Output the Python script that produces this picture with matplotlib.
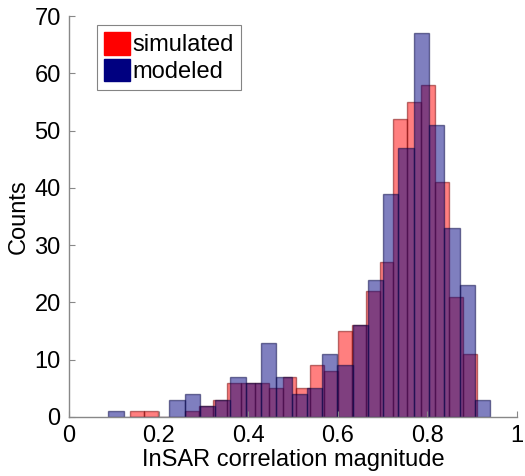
#! /usr/bin/python3
# -*- coding: utf-8 -*-

import matplotlib
matplotlib.use('Agg')
import matplotlib.pyplot as plt
from matplotlib.patches import Patch
import numpy as np


# histogram counts (25 bins each)
simulated_counts = [1, 1, 0, 0, 1, 2, 3, 6, 6, 6, 5, 7, 5, 9, 8,
                    15, 16, 22, 27, 52, 55, 58, 41, 21, 11]
simulated_range = (0.136, 0.910)

modeled_counts = [1, 0, 0, 0, 3, 4, 2, 3, 7, 6, 13, 7, 4, 5, 11,
                  9, 16, 24, 39, 47, 67, 51, 33, 23, 3]
modeled_range = (0.0877, 0.940)

xticks = [0, 0.2, 0.4, 0.6, 0.8, 1]
xticklabels = ['0', '0.2', '0.4', '0.6', '0.8', '1']
yticks = [0, 10, 20, 30, 40, 50, 60, 70]


def draw_hist(ax, counts, lims, color, edge):
    edges = np.linspace(lims[0], lims[1], len(counts) + 1)
    ax.bar(edges[:-1], counts, width=np.diff(edges), align='edge',
           color=color, alpha=0.5, edgecolor=edge, linewidth=1.0)


plt.rcParams['font.family'] = ['Liberation Sans', 'DejaVu Sans']

fig = plt.figure(figsize=(5.25, 4.76), dpi=100)
ax = fig.add_axes([0.1314, 0.124, 0.8534, 0.842])

draw_hist(ax, simulated_counts, simulated_range, (1, 0, 0), (0.45, 0, 0))
draw_hist(ax, modeled_counts, modeled_range, (0, 0, 0.5), (0, 0, 0.25))

ax.set_xlim(0, 1)
ax.set_ylim(0, 70)
ax.set_xticks(xticks)
ax.set_xticklabels(xticklabels)
ax.set_yticks(yticks)
ax.tick_params(direction='in', length=4, color='#888888',
               labelsize=17, pad=6)
for s in ['top', 'right']:
    ax.spines[s].set_visible(False)
for s in ['left', 'bottom']:
    ax.spines[s].set_color('#888888')
    ax.spines[s].set_linewidth(1.0)

ax.set_xlabel('InSAR correlation magnitude', fontsize=17, labelpad=1)
ax.set_ylabel('Counts', fontsize=17, labelpad=3)

handles = [Patch(facecolor='red', edgecolor='red', label='simulated'),
           Patch(facecolor=(0, 0, 0.5), edgecolor=(0, 0, 0.5), label='modeled')]
leg = ax.legend(handles=handles, loc='upper left', bbox_to_anchor=(0.063, 0.978),
                fontsize=17, frameon=True, fancybox=False, handlelength=1.1,
                handleheight=1.1, handletextpad=0.1, borderpad=0.3,
                labelspacing=0.1, borderaxespad=0)
leg.get_frame().set_edgecolor('#666666')
leg.get_frame().set_linewidth(0.8)

fig.savefig('out.png')
